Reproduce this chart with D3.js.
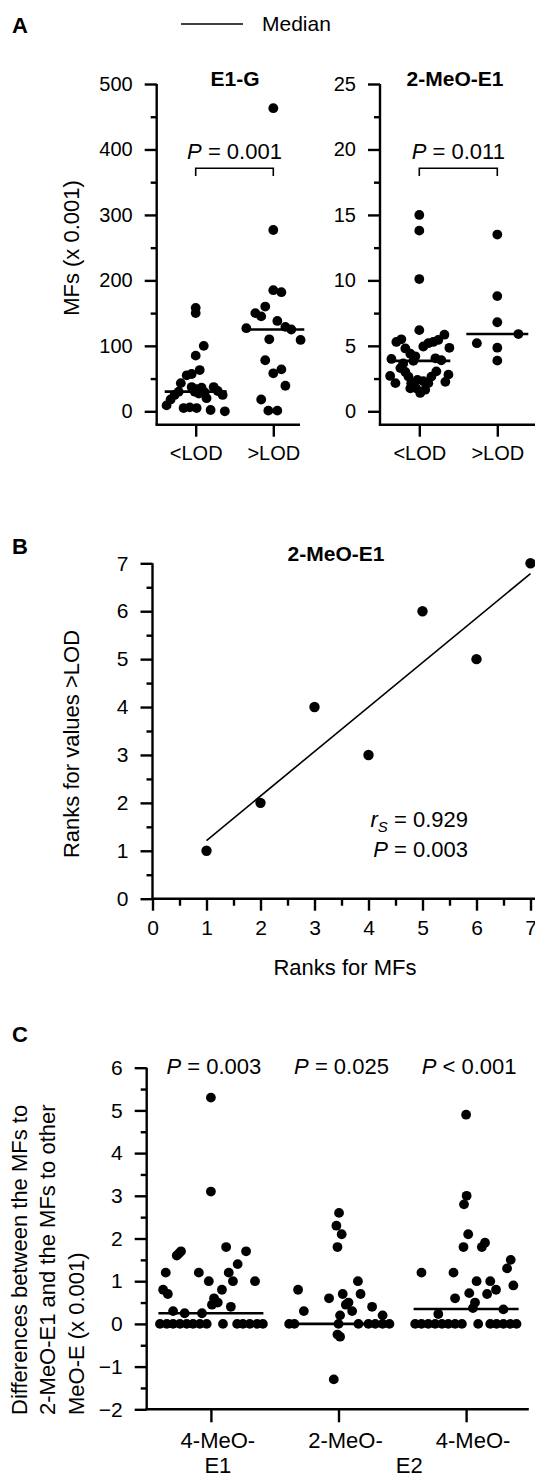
<!DOCTYPE html>
<html>
<head>
<meta charset="utf-8">
<script src="https://cdn.jsdelivr.net/npm/d3@7"></script>
<style>
  body { margin: 0; background: #fff; }
  svg { display: block; font-family: "Liberation Sans", Arial, Helvetica, sans-serif; }
</style>
</head>
<body>
<script>
// ---- Panel A data : [jitter (-1..1 of the median bar half width), value] ----
const catsA = ["<LOD", ">LOD"];
const e1gBelow = [[-0.94,9],[-0.81,18],[-0.68,25],[-0.55,30],[-0.48,43],[-0.39,5],[0.03,5],[-0.29,55],[-0.13,57],
  [0.13,63],[0,85],[0.26,100],[0,150],[0,158],[-0.13,37],[0.03,34],[0.19,36],[0.29,29],[0.35,20],[0.1,27],
  [-0.03,30],[0.48,2],[0.94,0],[0.58,37],[0.71,31],[0.87,25],[-0.19,6]];
const e1gAbove = [[0,463],[0,277],[0,185],[0.26,182],[-0.58,150],[-0.39,145],[-0.26,160],[0.13,138],[-0.87,127],
  [0.39,129],[0.58,125],[0.88,109],[-0.13,110],[-0.26,78],[0,58],[0.26,64],[0.39,39],[-0.39,18],[-0.16,1],[0.13,1]];
const e1gMedians = [30, 125];
const meoBelow = [[0,15.0],[0,13.8],[0,10.1],[0,6.2],[-0.74,5.3],[-0.58,5.5],[-0.9,4.0],[-0.94,2.7],[-0.77,2.15],
  [-0.45,4.8],[-0.29,4.4],[-0.13,4.2],[-0.52,3.65],[-0.45,3.0],[-0.35,2.65],[-0.26,2.15],[-0.1,1.75],[0.03,1.4],
  [0.19,1.65],[-0.29,1.75],[0.13,4.95],[0.29,5.2],[0.45,5.3],[0.61,5.45],[0.81,5.85],[0.97,4.85],[0.52,4.05],
  [0.94,2.8],[0.84,2.25],[0.55,3.05],[0.39,2.65],[0.29,2.15],[-0.61,3.3],[-0.06,2.4],[0.13,2.3],[0.71,3.9],[-0.19,3.85]];
const meoAbove = [[0,13.5],[0,8.8],[0,6.8],[0.68,5.9],[-0.66,5.2],[0,4.86],[0,3.87]];
const meoMedians = [3.85, 5.9];
const pValuesA = ["0.001", "0.011"];

// ---- Panel B data ----
const ranksMF = [1, 2, 3, 4, 5, 6, 7];
const ranksLOD = [1, 2, 4, 3, 6, 5, 7];
const rsText = "0.929", pTextB = "0.003";

// ---- Panel C data ----
const catsC = ["4-MeO-", "2-MeO-", "4-MeO-"];
const catsCSecond = [["E1", 0], ["E2", 1.5]];
const diff4E1 = [[0,5.3],[0,3.1],[-0.86,1.2],[-0.91,0.8],[-0.82,0.7],[-0.72,0.3],[-0.65,1.6],[-0.61,1.65],[-0.57,1.7],
  [-0.5,0.25],[-0.23,1.2],[-0.17,0.25],[-0.04,1.0],[0.06,0.6],[0.13,0.5],[0.02,0.45],[0.21,0.8],[0.29,1.8],
  [0.34,1.2],[0.42,1.0],[0.51,1.4],[0.67,1.7],[0.38,0.4],[0.84,1.0],
  [-0.97,0],[-0.84,0],[-0.72,0],[-0.59,0],[-0.46,0],[-0.34,0],[-0.21,0],[-0.08,0],[0.23,0],[0.5,0],[0.61,0],
  [0.74,0],[0.88,0],[0.99,0]];
const diff2E2 = [[0.01,2.6],[-0.04,2.3],[0.06,2.1],[-0.02,1.8],[-0.77,0.8],[0.37,1.0],[-0.18,0.6],[0.08,0.7],
  [0.42,0.7],[0.14,0.45],[0.19,0.5],[0.26,0.3],[0.64,0.4],[-0.66,0.3],[0.03,0.2],[0.84,0.2],[-0.02,-0.25],
  [0.03,-0.3],[-0.09,-1.3],
  [-0.94,0],[-0.84,0],[0,0],[0.38,0],[0.57,0],[0.7,0],[0.84,0],[0.97,0]];
const diff4E2 = [[0,4.9],[0.01,3.0],[-0.04,2.8],[0.04,2.1],[-0.05,1.8],[0.36,1.9],[0.3,1.8],[0.85,1.5],[0.78,1.3],
  [-0.85,1.2],[-0.24,1.2],[0.9,0.9],[0.2,1.0],[0.46,1.0],[0.57,0.8],[0.4,0.7],[-0.21,0.6],[0.06,0.72],
  [0.17,0.5],[0.13,0.37],[-0.53,0.23],[0.71,0.34],
  [-0.97,0],[-0.85,0],[-0.72,0],[-0.59,0],[-0.46,0],[-0.34,0],[-0.21,0],[-0.08,0],[0.23,0],[0.46,0],[0.58,0],
  [0.71,0],[0.84,0],[0.96,0]];
const mediansC = [0.25, 0, 0.35];
const pValuesC = [["=", "0.003"], ["=", "0.025"], ["<", "0.001"]];

// ---- drawing ----
const W = 535, H = 1479;
const svg = d3.select("body").append("svg").attr("width", W).attr("height", H);
const AXW = 2.4;
const intFmt = d3.format("d");

function panelLetter(t, x, y) {
  svg.append("text").attr("x", x).attr("y", y).attr("font-size", 22).attr("font-weight", "bold").text(t);
}

function leftAxis(y, x0, yBottom, major, minor, fs) {
  const g = svg.append("g").attr("transform", `translate(${x0},0)`);
  g.append("g").call(d3.axisLeft(y).tickValues(minor).tickSize(6).tickFormat(""))
    .call(a => a.select(".domain").remove());
  g.append("g").call(d3.axisLeft(y).tickValues(major).tickSize(12).tickPadding(12).tickFormat(intFmt))
    .call(a => a.select(".domain").remove())
    .call(a => a.selectAll("text").attr("font-size", fs).attr("font-family", null).attr("fill", "#000"));
  g.selectAll("line").attr("stroke", "#000").attr("stroke-width", AXW);
  g.append("line").attr("y1", y.range()[1]).attr("y2", yBottom)
    .attr("stroke", "#000").attr("stroke-width", AXW);
}

function bottomLine(x1, x2, y0) {
  svg.append("line").attr("x1", x1 - AXW / 2).attr("x2", x2).attr("y1", y0).attr("y2", y0)
    .attr("stroke", "#000").attr("stroke-width", AXW);
}

function dots(groups, x, y, half, r, medians, medHalf) {
  groups.forEach((grp, i) => {
    const cx = x(x.domain()[i]);
    const jit = d3.scaleLinear().domain([-1, 1]).range([cx - half, cx + half]);
    svg.append("g").selectAll("circle").data(grp).join("circle")
      .attr("cx", d => jit(d[0])).attr("cy", d => y(d[1])).attr("r", r).attr("fill", "#000");
    svg.append("line").attr("x1", cx - medHalf).attr("x2", cx + medHalf)
      .attr("y1", y(medians[i])).attr("y2", y(medians[i]))
      .attr("stroke", "#000").attr("stroke-width", 2.6);
  });
}

function italicP(x, y, rel, val, fs, anchor) {
  const t = svg.append("text").attr("x", x).attr("y", y).attr("font-size", fs)
    .attr("text-anchor", anchor || "middle");
  t.append("tspan").attr("font-style", "italic").text("P");
  t.append("tspan").text(` ${rel} ${val}`);
  return t;
}

// ---------- Panel A ----------
panelLetter("A", 12, 33);
svg.append("line").attr("x1", 181).attr("x2", 243).attr("y1", 24).attr("y2", 24)
  .attr("stroke", "#000").attr("stroke-width", 1.6);
svg.append("text").attr("x", 262).attr("y", 31).attr("font-size", 21).text("Median");

function panelA(opts) {
  const y = d3.scaleLinear().domain(opts.domain).range([411.3, 84]);
  const x = d3.scalePoint().domain(catsA).range(opts.cats);
  leftAxis(y, opts.ax, 424.7, opts.major, opts.minor, 20);
  bottomLine(opts.ax, opts.xEnd, 424.7);
  const gx = svg.append("g").attr("transform", "translate(0,424.7)")
    .call(d3.axisBottom(x).tickSize(12).tickPadding(9))
    .call(a => a.select(".domain").remove());
  gx.selectAll("line").attr("stroke", "#000").attr("stroke-width", AXW);
  gx.selectAll("text").attr("font-size", 20).attr("font-family", null).attr("fill", "#000");
  dots(opts.groups, x, y, 31, 4.9, opts.medians, 31);
  svg.append("text").attr("x", opts.titleX).attr("y", 86).attr("font-size", 21)
    .attr("font-weight", "bold").attr("text-anchor", "middle").text(opts.title);
  const [x1, x2] = catsA.map(x);
  svg.append("path").attr("d", `M${x1},176V168.3H${x2}V176`).attr("fill", "none")
    .attr("stroke", "#000").attr("stroke-width", 1.6);
  italicP((x1 + x2) / 2, 159, "=", opts.p, 22);
}

panelA({ domain: [0, 500], ax: 156.7, xEnd: 300, cats: [195.7, 273.3],
  major: d3.range(0, 501, 100), minor: d3.range(50, 500, 100),
  groups: [e1gBelow, e1gAbove], medians: e1gMedians, title: "E1-G", titleX: 235, p: pValuesA[0] });
panelA({ domain: [0, 25], ax: 380, xEnd: 535, cats: [419.3, 497.3],
  major: d3.range(0, 26, 5), minor: d3.range(2.5, 25, 5),
  groups: [meoBelow, meoAbove], medians: meoMedians, title: "2-MeO-E1", titleX: 455, p: pValuesA[1] });

svg.append("text").attr("transform", "translate(79,248) rotate(-90)").attr("font-size", 22)
  .attr("text-anchor", "middle").text("MFs (x 0.001)");

// ---------- Panel B ----------
panelLetter("B", 12, 554);
{
  const x = d3.scaleLinear().domain([0, 7]).range([152.5, 530.5]);
  const y = d3.scaleLinear().domain([0, 7]).range([898.7, 563.3]);
  leftAxis(y, 152.5, 898.7, d3.range(0, 8), d3.range(0.5, 7, 1), 21);
  bottomLine(152.5, 535, 898.7);
  const gx = svg.append("g").attr("transform", "translate(0,898.7)");
  gx.append("g").call(d3.axisBottom(x).tickValues(d3.range(0.5, 7, 1)).tickSize(7).tickFormat(""))
    .call(a => a.select(".domain").remove());
  gx.append("g").call(d3.axisBottom(x).tickValues(d3.range(0, 8)).tickSize(12).tickPadding(9).tickFormat(intFmt))
    .call(a => a.select(".domain").remove())
    .call(a => a.selectAll("text").attr("font-size", 21).attr("font-family", null).attr("fill", "#000"));
  gx.selectAll("line").attr("stroke", "#000").attr("stroke-width", AXW);

  const pts = ranksMF.map((v, i) => [v, ranksLOD[i]]);
  const mx = d3.mean(ranksMF), my = d3.mean(ranksLOD);
  const slope = d3.sum(pts, p => (p[0] - mx) * (p[1] - my)) / d3.sum(pts, p => (p[0] - mx) ** 2);
  const icpt = my - slope * mx;
  const xs = d3.extent(ranksMF);
  svg.append("line").attr("x1", x(xs[0])).attr("x2", x(xs[1]))
    .attr("y1", y(icpt + slope * xs[0])).attr("y2", y(icpt + slope * xs[1]))
    .attr("stroke", "#000").attr("stroke-width", 1.6);
  svg.append("g").selectAll("circle").data(pts).join("circle")
    .attr("cx", d => x(d[0])).attr("cy", d => y(d[1])).attr("r", 5.2).attr("fill", "#000");

  svg.append("text").attr("x", 336).attr("y", 561).attr("font-size", 21).attr("font-weight", "bold")
    .attr("text-anchor", "middle").text("2-MeO-E1");
  const rs = svg.append("text").attr("x", 468).attr("y", 827).attr("font-size", 22).attr("text-anchor", "end");
  rs.append("tspan").attr("font-style", "italic").text("r");
  rs.append("tspan").attr("font-style", "italic").attr("font-size", 15).attr("dy", 5).text("S");
  rs.append("tspan").attr("dy", -5).text(` = ${rsText}`);
  italicP(468, 857, "=", pTextB, 22, "end");
  svg.append("text").attr("x", 345).attr("y", 975).attr("font-size", 22)
    .attr("text-anchor", "middle").text("Ranks for MFs");
  svg.append("text").attr("transform", "translate(79,744) rotate(-90)").attr("font-size", 22)
    .attr("text-anchor", "middle").text("Ranks for values >LOD");
}

// ---------- Panel C ----------
panelLetter("C", 12, 1042);
{
  const y = d3.scaleLinear().domain([-2, 6]).range([1409.3, 1067.7]);
  const x = d3.scalePoint().domain(d3.range(catsC.length)).range([210.9, 466.1]);
  leftAxis(y, 146.7, 1409.3, d3.range(-2, 7), d3.range(-1.5, 6, 1), 21);
  bottomLine(146.7, 528.8, 1409.3);
  const gx = svg.append("g").attr("transform", "translate(0,1409.3)")
    .call(d3.axisBottom(x).tickSize(13).tickFormat(""))
    .call(a => a.select(".domain").remove());
  gx.selectAll("line").attr("stroke", "#000").attr("stroke-width", AXW);
  catsC.forEach((c, i) => {
    svg.append("text").attr("x", x(i) + 7).attr("y", 1448).attr("font-size", 22)
      .attr("text-anchor", "middle").text(c);
  });
  const xi = d3.scaleLinear().domain([0, catsC.length - 1]).range(x.range());
  catsCSecond.forEach(([t, at]) => {
    svg.append("text").attr("x", xi(at) + 7).attr("y", 1473).attr("font-size", 22)
      .attr("text-anchor", "middle").text(t);
  });
  dots([diff4E1, diff2E2, diff4E2], x, y, 52.5, 4.9, mediansC, 52.5);
  pValuesC.forEach(([rel, v], i) => italicP(x(i) + 3, 1074, rel, v, 22));
  const lab = ["Differences between the MFs to", "2-MeO-E1 and the MFs to other", "MeO-E (x 0.001)"];
  const t = svg.append("text").attr("transform", "translate(27,1415) rotate(-90)").attr("font-size", 22);
  lab.forEach((l, i) => t.append("tspan").attr("x", 0).attr("y", i * 28.3).text(l));
}
</script>
</body>
</html>
